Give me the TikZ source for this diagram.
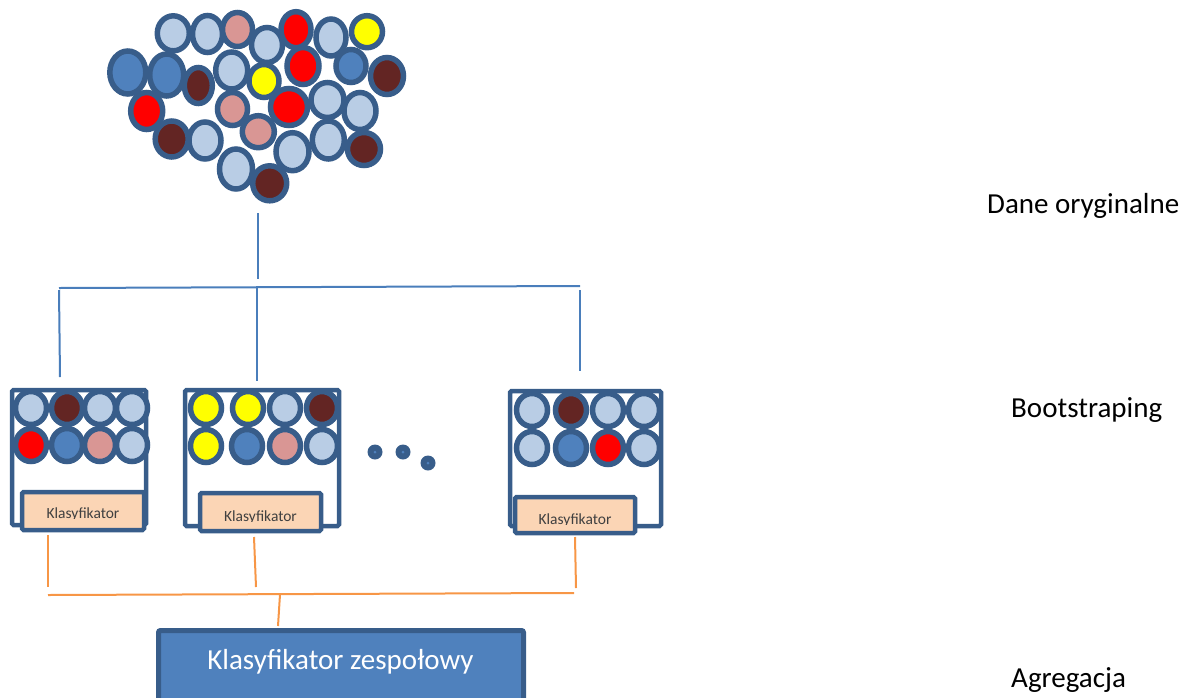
\documentclass[tikz,border=0pt]{standalone}
\usepackage{fontspec}
\setmainfont{Carlito}
\usetikzlibrary{shapes.geometric}

\definecolor{rim}{HTML}{385D8A}
\definecolor{lt}{HTML}{B9CDE5}
\definecolor{md}{HTML}{4F81BD}
\definecolor{dk}{HTML}{632523}
\definecolor{pk}{HTML}{D99694}
\definecolor{rd}{HTML}{FF0000}
\definecolor{yl}{HTML}{FFFF00}
\definecolor{peachfill}{HTML}{FBD5B5}
\definecolor{treeblue}{HTML}{4A7EBB}
\definecolor{treeorange}{HTML}{F79646}
\definecolor{smalltext}{HTML}{404040}

\tikzset{
  ball/.style={ellipse, draw=rim, line width=5.5pt, inner sep=0pt},
  frame/.style={draw=rim, line width=4.5pt, rounded corners=1.5pt, inner sep=0pt},
  peachbox/.style={draw=rim, fill=peachfill, line width=4.5pt, rounded corners=1.5pt, inner sep=0pt},
  ensemble/.style={draw=rim, fill=md, line width=5pt, rounded corners=2pt, inner sep=0pt},
  dotmark/.style={circle, fill=rim, inner sep=0pt, minimum size=15pt},
  dotcore/.style={circle, fill=md, inner sep=0pt, minimum size=3pt},
  bluelink/.style={draw=treeblue, line width=2pt},
  orangelink/.style={draw=treeorange, line width=2pt},
  clslabel/.style={anchor=base, text=smalltext, font=\fontsize{15.5}{17}\selectfont, inner sep=0pt},
  rowlabel/.style={anchor=base west, text=black, font=\fontsize{29}{31}\selectfont, inner sep=0pt},
}

\begin{document}
\begin{tikzpicture}[x=1pt,y=-1pt]
\useasboundingbox (0,0) rectangle (1192,697);

% ---- original data: a loose cloud of samples ----
\foreach \n/\c/\x/\y/\w/\h in {
  1/lt/173.3/33.3/32/35, 2/lt/207.5/34/30/37, 3/pk/237.5/29.5/30/34,
  4/lt/267/45/31/35, 5/rd/296/29.7/30/36, 6/lt/331/37.5/30/37,
  7/yl/367/31.7/31/32, 8/md/127.8/72.5/36/43, 9/md/166.7/75/34/42,
  10/dk/198.3/85.5/28/36, 11/lt/231.7/70.5/32/37, 12/yl/264/81/30/33,
  13/rd/303/66/32/37, 14/md/351/66/30/33, 15/dk/387/76/33/37,
  16/rd/146.7/111/32/37, 17/pk/232.5/109/30/33, 18/rd/289/107/37/37,
  19/lt/327.5/100/33/35, 20/lt/360/111/32/37, 21/dk/171.7/139/33/36,
  22/lt/205/140.5/32/37, 23/pk/258.3/131.7/32/32, 24/lt/292.5/151.7/33/38,
  25/lt/328.3/140/32/38, 26/dk/364/149/33/33, 27/lt/236/169/33/40,
  28/dk/269.7/183.3/34/35}
  \node[ball, fill=\c, minimum width=\w, minimum height=\h] (s\n) at (\x,\y) {};

% ---- bootstrap samples: frames ----
\node[frame, minimum width=134, minimum height=135] (f1) at (79,457.5) {};
\node[frame, minimum width=154, minimum height=136] (f2) at (262,458) {};
\node[frame, minimum width=151, minimum height=135] (f3) at (585.5,458.5) {};

% drawn samples in each frame
\foreach \n/\c/\x/\y in {
  a1/lt/31/408, a2/dk/67/408, a3/lt/100/408, a4/lt/132/408,
  a5/rd/31/445, a6/md/67/445, a7/pk/100/445, a8/lt/132/445,
  b1/yl/206/408, b2/yl/248/408, b3/lt/285/408, b4/dk/322/408,
  b5/yl/206/446, b6/md/247/446, b7/pk/285/446, b8/lt/322/446,
  c1/lt/532/410, c2/dk/571/410, c3/lt/608/410, c4/lt/644/410,
  c5/lt/532/448, c6/md/571/448, c7/rd/608/448, c8/lt/644/448}
  \node[ball, fill=\c, minimum width=31, minimum height=33] (\n) at (\x,\y) {};

% ellipsis between the second and the last sample
\foreach \n/\x/\y in {d1/375/452, d2/403/452, d3/428/463}{
  \node[dotmark] (\n) at (\x,\y) {};
  \node[dotcore] at (\n) {};
}

% ---- classifier boxes ----
\node[peachbox, minimum width=122, minimum height=38] (k1) at (83,511) {};
\node[peachbox, minimum width=121, minimum height=38] (k2) at (260.5,512) {};
\node[peachbox, minimum width=120, minimum height=36] (k3) at (575,515) {};

\begin{scope}
  \clip (24,494) rectangle (142,518.8);
  \node[clslabel] (t1) at (83,518) {Klasyfikator};
\end{scope}
\begin{scope}
  \clip (202,495) rectangle (319,521.8);
  \node[clslabel] (t2) at (260.5,521) {Klasyfikator};
\end{scope}
\begin{scope}
  \clip (517,499) rectangle (633,524.8);
  \node[clslabel] (t3) at (575,524) {Klasyfikator};
\end{scope}

% ---- ensemble classifier ----
\node[ensemble, minimum width=365, minimum height=82] (ens) at (341,671.5) {};
\node[anchor=base, text=white, font=\fontsize{29}{31}\selectfont, inner sep=0pt] (enst) at (340.5,669) {Klasyfikator zespołowy};

% ---- tree from the data to the bootstrap samples ----
\coordinate (root) at (258,213);
\coordinate (rootend) at (258,279);
\coordinate (busL) at (59,288);
\coordinate (busM) at (257,287.3);
\coordinate (busR) at (580,286);
\coordinate (dropL) at (59,290);
\coordinate (dropLend) at (60,377);
\coordinate (dropMend) at (257,381);
\coordinate (dropR) at (580,290);
\coordinate (dropRend) at (580,371);
\path[bluelink] (root) -- (rootend);
\path[bluelink] (busL) -- (busR);
\path[bluelink] (dropL) -- (dropLend);
\path[bluelink] (busM) -- (dropMend);
\path[bluelink] (dropR) -- (dropRend);

% ---- aggregation of the classifier outputs ----
\coordinate (o1) at (48,535);
\coordinate (o1e) at (48,587);
\coordinate (o2) at (254,537);
\coordinate (o2e) at (256,587);
\coordinate (o3) at (575,537);
\coordinate (o3e) at (576,588);
\coordinate (aggL) at (48,595);
\coordinate (aggM) at (280,594.5);
\coordinate (aggR) at (574,593);
\coordinate (aggend) at (278,626);
\path[orangelink] (o1) -- (o1e);
\path[orangelink] (o2) -- (o2e);
\path[orangelink] (o3) -- (o3e);
\path[orangelink] (aggL) -- (aggR);
\path[orangelink] (aggM) -- (aggend);

% ---- stage labels ----
\node[rowlabel] (l1) at (987,213) {Dane oryginalne};
\node[rowlabel] (l2) at (1011,417) {Bootstraping};
\node[rowlabel] (l3) at (1011,687) {Agregacja};
\end{tikzpicture}
\end{document}
